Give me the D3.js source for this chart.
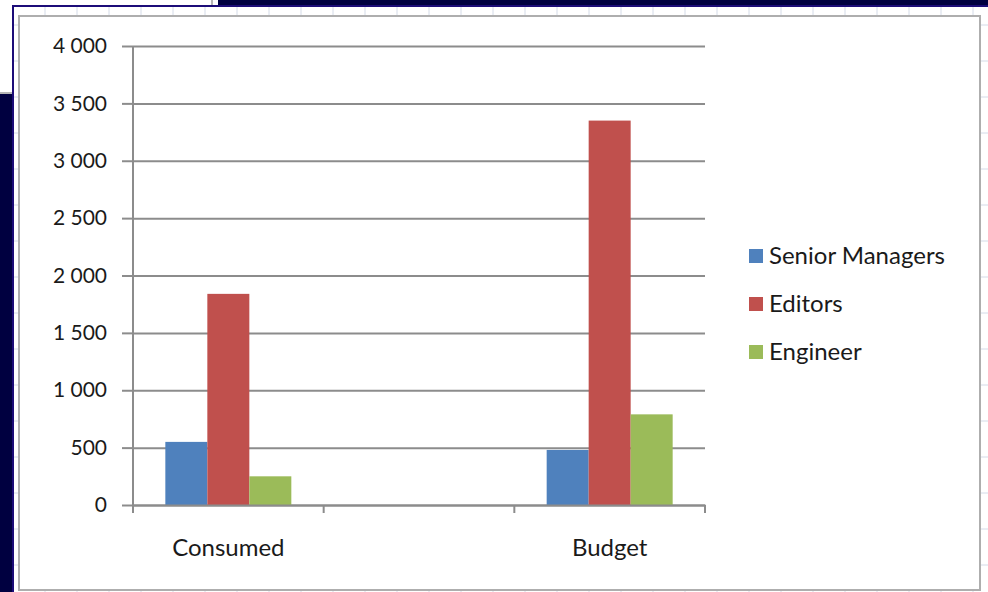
<!DOCTYPE html>
<html>
<head>
<meta charset="utf-8">
<script src="https://cdn.jsdelivr.net/npm/d3@7"></script>
<style>
  html, body { margin: 0; padding: 0; background: #000040; }
  svg { display: block; }
  text { font-family: Lato, "Open Sans", sans-serif; fill: #1a1a1a; }
</style>
</head>
<body>
<div id="chart"></div>
<script>
// data
const categories = ["Consumed", "", "Budget"];
const seriesNames = ["Senior Managers", "Editors", "Engineer"];
const seniorManagers = [550, null, 480];
const editors = [1840, null, 3350];
const engineer = [250, null, 790];
const yTicks = [0, 500, 1000, 1500, 2000, 2500, 3000, 3500, 4000];
const colors = ["#4F81BD", "#C0504D", "#9BBB59"];

const width = 988, height = 592;
const plot = { left: 133, right: 705, top: 46, bottom: 505 };

const svg = d3.select("#chart").append("svg")
    .attr("width", width)
    .attr("height", height);

// -----------------------------
// background: window + spreadsheet
// -----------------------------
svg.append("rect").attr("width", width).attr("height", height).attr("fill", "#000040");
svg.append("rect").attr("x", 0).attr("y", 0).attr("width", 218).attr("height", 94).attr("fill", "#fff");
svg.append("line").attr("x1", 212).attr("x2", 212).attr("y1", 0).attr("y2", 6)
    .attr("stroke", "#b5b5b5").attr("stroke-width", 2);
svg.append("line").attr("x1", 0).attr("x2", 13).attr("y1", 93).attr("y2", 93)
    .attr("stroke", "#b5b5b5").attr("stroke-width", 2);

svg.append("rect").attr("x", 13).attr("y", 6).attr("width", width).attr("height", height)
    .attr("fill", "#fff").attr("stroke", "#1c0c78").attr("stroke-width", 2);

const sheet = svg.append("g").attr("stroke", "#d4dbe8").attr("stroke-width", 1);
sheet.selectAll(".col").data(d3.range(45, width, 32)).enter().append("line")
    .attr("x1", d => d).attr("x2", d => d).attr("y1", 7).attr("y2", height);
sheet.selectAll(".row").data(d3.range(25, height, 36)).enter().append("line")
    .attr("x1", 14).attr("x2", width).attr("y1", d => d).attr("y2", d => d);

// chart area
svg.append("rect").attr("x", 19).attr("y", 16).attr("width", 961).attr("height", 574)
    .attr("fill", "#fff").attr("stroke", "#aeaeae").attr("stroke-width", 2);

// -----------------------------
// scales
// -----------------------------
const x0 = d3.scaleBand().domain(categories).range([plot.left, plot.right]).padding(0);
const x1 = d3.scaleBand().domain(seriesNames).range([0, x0.bandwidth()])
    .paddingInner(0).paddingOuter(0.77);
const y = d3.scaleLinear().domain([0, 4000]).range([plot.bottom, plot.top]);

const locale = d3.formatLocale({ decimal: ",", thousands: "\u00a0", grouping: [3], currency: ["", ""] });
const fmt = locale.format(",d");

// gridlines
const grid = svg.append("g")
    .attr("transform", `translate(${plot.left},0)`)
    .call(d3.axisLeft(y).tickValues(yTicks).tickSize(-(plot.right - plot.left)).tickFormat(""));
grid.select(".domain").remove();
grid.selectAll("line").attr("stroke", "#8c8c8c").attr("stroke-width", 2);

// -----------------------------
// bars
// -----------------------------
const series = [seniorManagers, editors, engineer].map((vals, i) => ({
    name: seriesNames[i], color: colors[i],
    values: categories.map((c, j) => ({ cat: c, value: vals[j] }))
}));

const groups = svg.selectAll(".series").data(series).enter().append("g")
    .attr("class", "series").attr("fill", d => d.color);

groups.selectAll("rect")
    .data(d => d.values.filter(v => v.value != null).map(v => ({ ...v, name: d.name })))
    .enter().append("rect")
    .attr("x", d => x0(d.cat) + x1(d.name))
    .attr("width", x1.bandwidth())
    .attr("y", d => y(d.value))
    .attr("height", d => y(0) - y(d.value));

// -----------------------------
// axes
// -----------------------------
const yAxis = svg.append("g")
    .attr("transform", `translate(${plot.left},0)`)
    .call(d3.axisLeft(y).tickValues(yTicks).tickSize(11).tickPadding(15).tickFormat(fmt));
yAxis.select(".domain").remove();
yAxis.selectAll("line").attr("stroke", "#8c8c8c").attr("stroke-width", 2);
yAxis.selectAll("text").attr("font-size", 21).attr("fill", "#1a1a1a")
    .style("font-family", "Lato, 'Open Sans', sans-serif");

svg.append("line")
    .attr("x1", plot.left).attr("x2", plot.left)
    .attr("y1", y(4000)).attr("y2", y(0) + 8)
    .attr("stroke", "#8c8c8c").attr("stroke-width", 2);

const xAxis = svg.append("g")
    .attr("transform", `translate(0,${y(0)})`)
    .call(d3.axisBottom(x0).tickSize(0).tickPadding(34));
xAxis.select(".domain").attr("stroke", "#8c8c8c").attr("stroke-width", 2);
xAxis.selectAll("text").attr("font-size", 24).attr("fill", "#1a1a1a")
    .style("font-family", "Lato, 'Open Sans', sans-serif");

// ticks between categories
const bounds = categories.map(c => x0(c)).concat([x0.range()[1]]);
xAxis.selectAll(".bound").data(bounds).enter().append("line")
    .attr("x1", d => d).attr("x2", d => d).attr("y1", 0).attr("y2", 8)
    .attr("stroke", "#8c8c8c").attr("stroke-width", 2);

// -----------------------------
// legend
// -----------------------------
const legend = svg.append("g").attr("transform", "translate(749,256)");
const items = legend.selectAll(".item").data(series).enter().append("g")
    .attr("transform", (d, i) => `translate(0,${i * 48})`);
items.append("rect").attr("x", 0).attr("y", -7).attr("width", 14).attr("height", 14)
    .attr("fill", d => d.color);
items.append("text").attr("x", 20).attr("dy", "0.35em").attr("font-size", 24)
    .text(d => d.name);
</script>
</body>
</html>
